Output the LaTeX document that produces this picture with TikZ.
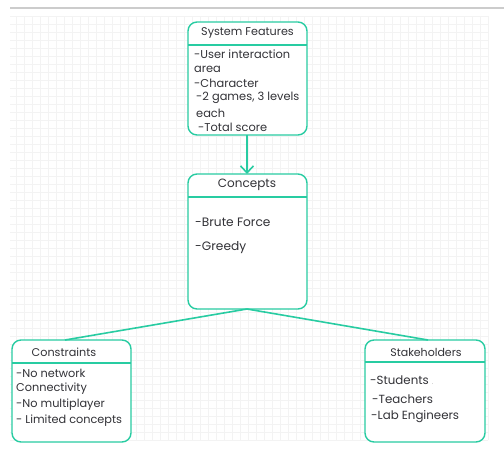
\documentclass[tikz,border=0pt]{standalone}
\usepackage{fontspec}
\setmainfont{Poppins}
\usetikzlibrary{arrows.meta}
\definecolor{teal1}{RGB}{40,204,162}
\definecolor{ink}{RGB}{50,50,55}
\definecolor{gridc}{RGB}{243,243,243}
\newcommand{\fsz}[1]{\fontsize{#1}{#1}\selectfont}
\tikzset{
  card/.style={draw=teal1, line width=1.4pt, rounded corners=9pt, fill=white},
  sep/.style={draw=teal1, line width=1.4pt},
  link/.style={draw=teal1, line width=1.6pt},
  title/.style={text=ink, inner sep=0pt},
  item/.style={text=ink, inner sep=0pt, anchor=west},
}
\begin{document}
\begin{tikzpicture}[x=1pt,y=-1pt]
\useasboundingbox (0,0) rectangle (504,448);
\fill[white] (0,0) rectangle (504,448);
% background grid
\draw[gridc, line width=0.6pt, step=8pt, yscale=-1] (10,-440) grid (488,-16);
% top rule
\draw[gray!40, line width=1.3pt] (10,8) -- (504,8);

% System Features
\draw[card] (188,22) rectangle (307,135);
\draw[sep] (188,45) -- (307,45);
\node[title, font=\fsz{11.2}] (sft) at (247.5,33) {System Features};
\begin{scope}[every node/.append style={font=\fsz{11.4}}]
\node[item] (sf1) at (194,54) {-User interaction};
\node[item] (sf2) at (194,69) {area};
\node[item] (sf3) at (194,83) {-Character};
\node[item] (sf4) at (196,98) {-2 games, 3 levels};
\node[item] (sf5) at (196,113) {each};
\node[item] (sf6) at (198,127) {-Total score};
\end{scope}
\coordinate (sfb) at (247,135);

% Concepts
\draw[card] (188,174) rectangle (307,309);
\draw[sep] (188,197) -- (307,197);
\node[title, font=\fsz{12}] (cct) at (247,185) {Concepts};
\node[item, font=\fsz{12.2}] (cc1) at (195,222) {-Brute Force};
\node[item, font=\fsz{12.2}] (cc2) at (195,248) {-Greedy};
\coordinate (cct0) at (247,174);
\coordinate (ccb) at (247,309);

% Constraints
\draw[card] (12,340) rectangle (131,442);
\draw[sep] (12,363) -- (131,363);
\node[title, font=\fsz{11.2}] (cnt) at (64,352) {Constraints};
\begin{scope}[every node/.append style={font=\fsz{11.3}}]
\node[item] (cn1) at (16,373) {-No network};
\node[item] (cn2) at (16,389) {Connectivity};
\node[item] (cn3) at (16,405) {-No multiplayer};
\node[item] (cn4) at (16,421) {- Limited concepts};
\end{scope}
\coordinate (cnt0) at (65,340);

% Stakeholders
\draw[card] (365,340) rectangle (485,442);
\draw[sep] (365,362) -- (485,362);
\node[title, font=\fsz{11}] (skt) at (426,352) {Stakeholders};
\begin{scope}[every node/.append style={font=\fsz{11.8}}]
\node[item] (sk1) at (370,380) {-Students \textcolor{gray!60}{\fsz{7}.}};
\node[item] (sk2) at (372,399) {-Teachers};
\node[item] (sk3) at (371,417) {-Lab Engineers};
\end{scope}
\coordinate (skt0) at (428,340);

% connectors
\draw[link, line width=2pt, -{Straight Barb[length=7pt,width=13pt,line width=1.6pt]}] (sfb) -- (cct0);
\draw[link] (ccb) -- (cnt0);
\draw[link] (ccb) -- (skt0);
\end{tikzpicture}
\end{document}
